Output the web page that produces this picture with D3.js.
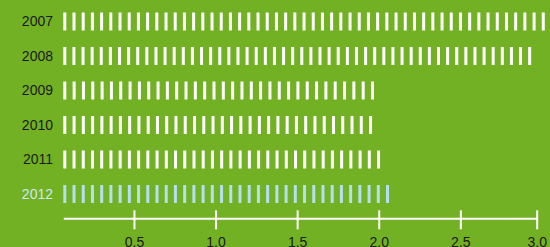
<!DOCTYPE html>
<html>
<head>
<meta charset="utf-8">
<script src="https://cdn.jsdelivr.net/npm/d3@7"></script>
<style>
  html, body { margin: 0; padding: 0; background: #72b123; overflow: hidden; }
  svg { display: block; font-family: "Liberation Sans", Arial, sans-serif; }
</style>
</head>
<body>
<div id="js-svg-container"></div>
<script>
let years = ['2007', '2008', '2009', '2010', '2011', '2012'];
let values = [3.243, 2.934, 1.971, 1.959, 2.008, 2.063];
let stripeCounts = [57, 52, 34, 34, 35, 36];
let xDomain = [0.067, 2.968];
let tickValues = [0.5, 1.0, 1.5, 2.0, 2.5, 2.968];

document.addEventListener('DOMContentLoaded', function() {

    let width = 550;
    let height = 247;

    let margin = {
        top: 21.5,
        bottom: 53,
        left: 63.3,
        right: 13.3
    };

    let barHeight = 18;
    let stripeWidth = 3;
    let highlight = '2012';

    let data = years.map((y, i) => {
        return { year: y, value: values[i], count: stripeCounts[i] };
    });

    let x = d3.scaleLinear()
        .domain(xDomain)
        .range([margin.left, width - margin.right]);

    let y = d3.scalePoint()
        .domain(years)
        .range([margin.top, height - margin.bottom]);

    let svg = d3.select('#js-svg-container')
        .append('svg')
        .attr('width', width)
        .attr('height', height);

    svg.append('rect')
        .attr('width', width)
        .attr('height', height)
        .attr('fill', '#72b123');

    // each row: its stripes spread evenly from the axis start to the value
    let rows = svg.selectAll('.row')
        .data(data)
        .enter()
        .append('g')
        .attr('class', 'row')
        .attr('transform', d => 'translate(0,' + (y(d.year) - barHeight / 2) + ')');

    rows.selectAll('rect')
        .data(d => d3.range(d.count).map(i => {
            let x0 = x(xDomain[0]);
            let step = (x(d.value) - stripeWidth - x0) / (d.count - 1);
            return { year: d.year, x: x0 + i * step };
        }))
        .enter()
        .append('rect')
        .attr('x', s => s.x)
        .attr('y', 0)
        .attr('width', stripeWidth)
        .attr('height', barHeight)
        .attr('fill', s => s.year === highlight ? '#b3dff0' : '#ffffff');

    svg.selectAll('.year')
        .data(data)
        .enter()
        .append('text')
        .attr('class', 'year')
        .attr('x', 53)
        .attr('y', d => y(d.year))
        .attr('dy', '0.35em')
        .attr('text-anchor', 'end')
        .style('font-size', '14px')
        .style('fill', d => d.year === highlight ? '#cfe8f0' : '#1a1a1a')
        .text(d => d.year);

    let xAxis = d3.axisBottom(x)
        .tickValues(tickValues)
        .tickFormat(d3.format('.1f'))
        .tickSizeInner(11)
        .tickSizeOuter(0)
        .tickPadding(8);

    let axis = svg.append('g')
        .attr('transform', 'translate(0,' + 218.3 + ')')
        .call(xAxis);

    axis.select('.domain')
        .attr('stroke', '#ffffff')
        .attr('stroke-width', 2);

    axis.selectAll('.tick line')
        .attr('y1', -8)
        .attr('stroke', '#ffffff')
        .attr('stroke-width', 2);

    axis.selectAll('.tick text')
        .style('font-size', '14px')
        .style('font-family', '"Liberation Sans", Arial, sans-serif')
        .attr('fill', '#1a1a1a');
});
</script>
</body>
</html>
